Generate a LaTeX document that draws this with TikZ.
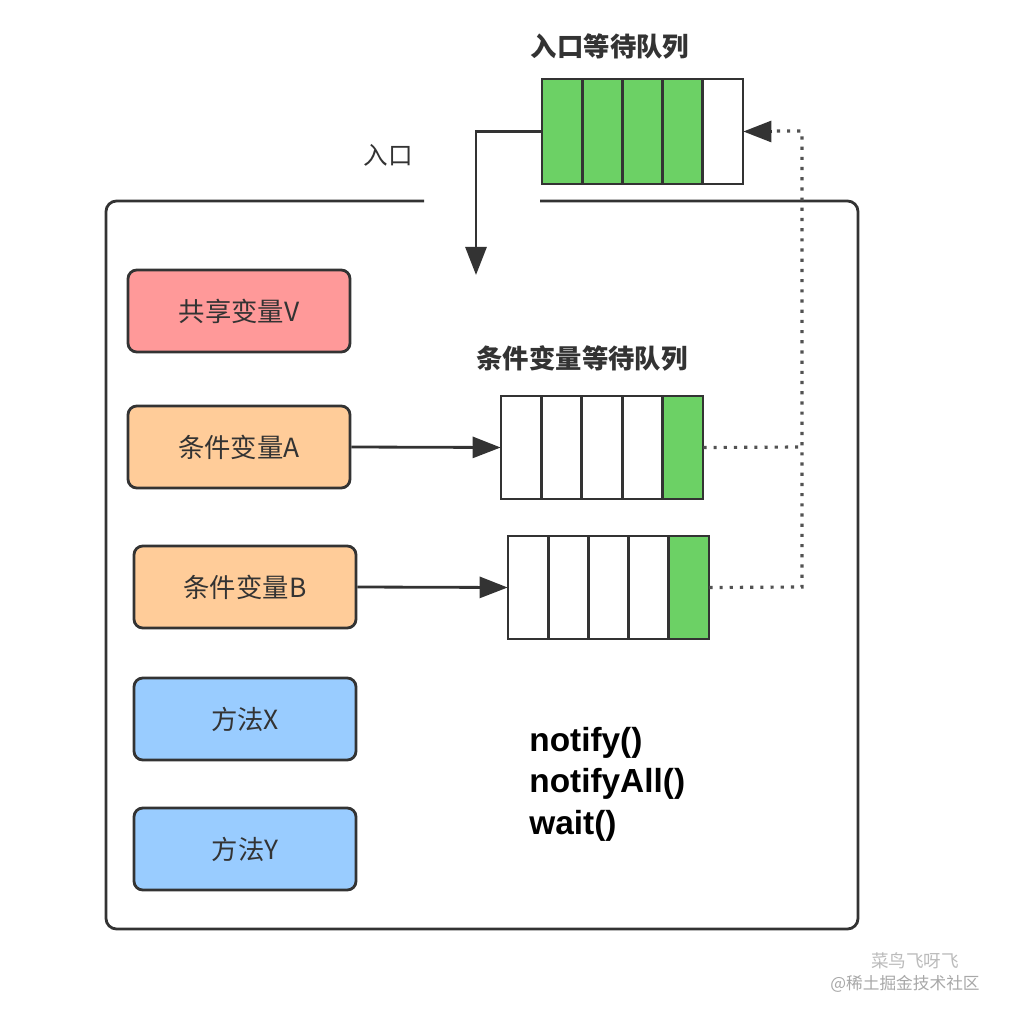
\documentclass[tikz,border=0pt]{standalone}
\usepackage{fontspec}
\setmainfont{Noto Sans CJK SC}
\newfontfamily\latinbold{Liberation Sans}
\usetikzlibrary{arrows.meta}
\definecolor{edge}{HTML}{333333}
\definecolor{qgreen}{HTML}{6CD165}
\definecolor{vpink}{HTML}{FF9999}
\definecolor{corange}{HTML}{FFCC99}
\definecolor{mblue}{HTML}{99CCFF}
\definecolor{wm}{HTML}{BBBBBB}
\tikzset{
  box/.style={draw=edge, line width=1.6pt, rounded corners=5pt, minimum width=222*0.02cm, minimum height=82*0.02cm, font=\fontsize{15}{17}\selectfont, text=edge, inner sep=0pt},
  cell/.style={draw=edge, line width=1.6pt},
  conn/.style={draw=edge, line width=1.6pt, -{Triangle[length=16pt,width=12pt]}},
  dotline/.style={draw=edge!85, line width=1.8pt, dash pattern=on 1.8pt off 4pt},
  title/.style={font=\bfseries\fontsize{15}{17}\selectfont, text=edge},
}
\begin{document}
\begin{tikzpicture}[x=0.02cm,y=-0.02cm]
\useasboundingbox (0,0) rectangle (1012,1020);
\fill[white] (0,0) rectangle (1012,1020);
% outer monitor frame with entry gap
\draw[edge, line width=1.6pt, rounded corners=6pt] (424,201) -- (106,201) -- (106,929) -- (858,929) -- (858,201) -- (540,201);
\node[font=\fontsize{14}{16}\selectfont, text=edge] (entry) at (388,155) {入口};
% entry queue
\node[title] (etitle) at (610,46) {入口等待队列};
\foreach \i in {0,1,2,3} {
  \filldraw[cell, fill=qgreen] (542+40.2*\i,79) rectangle (582.2+40.2*\i,184);
}
\filldraw[cell, fill=white] (702.8,79) rectangle (743,184);
\node[inner sep=0pt, minimum width=201*0.02cm, minimum height=105*0.02cm] (eq) at (642.5,131.5) {};
\coordinate (ein) at (476,275);
\draw[conn] (eq.west) -| (ein);
% variable boxes
\node[box, fill=vpink] (shared) at (239,311) {共享变量V};
\node[box, fill=corange] (condA) at (239,447) {条件变量A};
\node[box, fill=corange] (condB) at (245,587) {条件变量B};
\node[box, fill=mblue] (methX) at (245,719) {方法X};
\node[box, fill=mblue] (methY) at (245,849) {方法Y};
% condition queues
\node[title] (ctitle) at (582,358) {条件变量等待队列};
\foreach \i in {0,1,2,3} {
  \draw[cell] (501+40.4*\i,396) rectangle (541.4+40.4*\i,499);
  \draw[cell] (508+40.2*\i,536) rectangle (548.2+40.2*\i,639);
}
\filldraw[cell, fill=qgreen] (662.6,396) rectangle (703,499);
\filldraw[cell, fill=qgreen] (668.8,536) rectangle (709,639);
\node[inner sep=0pt, minimum width=202*0.02cm, minimum height=103*0.02cm] (qA) at (602,447.5) {};
\node[inner sep=0pt, minimum width=201*0.02cm, minimum height=103*0.02cm] (qB) at (608.5,587.5) {};
\draw[conn] (condA.east) -- (qA.west);
\draw[conn] (condB.east) -- (qB.west);
% notify paths
\coordinate (cornerB) at (802,587);
\coordinate (cornerA) at (802,447);
\draw[dotline] (qA.east) -- (cornerA);
\draw[dotline] (qB.east) -- (cornerB) -- (802,131) -- (770,131);
\draw[edge, line width=1.6pt, -{Triangle[length=16pt,width=12pt]}] (772,131.5) -- (eq.east);
% methods text
\node[anchor=north west, align=left, font=\latinbold\bfseries\fontsize{19}{23.5}\selectfont, text=black, inner sep=0pt] (ops) at (529,727) {notify()\\notifyAll()\\wait()};
% watermark
\node[font=\fontsize{10}{12}\selectfont, text=wm] (wm1) at (915,961) {菜鸟飞呀飞};
\node[font=\fontsize{9.5}{11}\selectfont, text=wm!90!black] (wm2) at (905,984) {@稀土掘金技术社区};
\end{tikzpicture}
\end{document}
